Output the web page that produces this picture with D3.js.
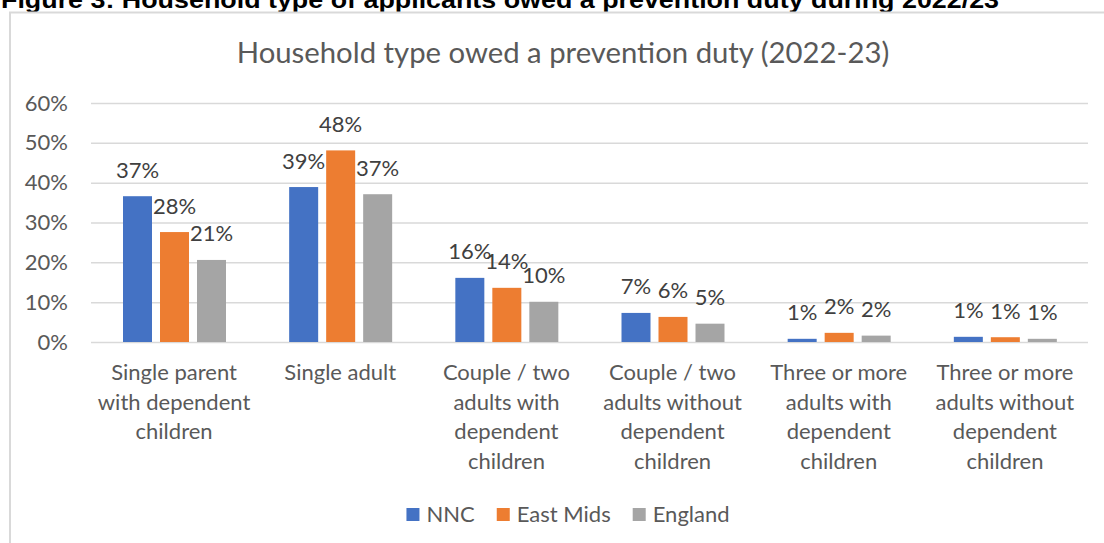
<!DOCTYPE html>
<html>
<head>
<meta charset="utf-8">
<script src="https://cdn.jsdelivr.net/npm/d3@7"></script>
<style>
  html, body { margin: 0; padding: 0; background: #fff; }
  svg { display: block; }
</style>
</head>
<body>
<svg id="chart" width="1104" height="543"></svg>
<script>
// ---------------- DATA ----------------
const heading = "Figure 3: Household type of applicants owed a prevention duty during 2022/23";
const chartTitle = "Household type owed a prevention duty (2022-23)";
const categories = [
  ["Single parent", "with dependent", "children"],
  ["Single adult"],
  ["Couple / two", "adults with", "dependent", "children"],
  ["Couple / two", "adults without", "dependent", "children"],
  ["Three or more", "adults with", "dependent", "children"],
  ["Three or more", "adults without", "dependent", "children"]
];
const seriesNames = ["NNC", "East Mids", "England"];
const nncValues      = [0.366, 0.389, 0.161, 0.073, 0.008, 0.013];
const eastMidsValues = [0.276, 0.481, 0.136, 0.063, 0.023, 0.012];
const englandValues  = [0.206, 0.371, 0.101, 0.046, 0.016, 0.008];
const yTicks = [0, 0.1, 0.2, 0.3, 0.4, 0.5, 0.6];
const seriesColors = ["#4472C4", "#ED7D31", "#A5A5A5"];

// ---------------- LAYOUT ----------------
const svg = d3.select("#chart");
const FONT = "Lato, 'Open Sans', sans-serif";
const plot = { left: 91, right: 1088, top: 103, bottom: 342 };

const catKeys = categories.map((c, i) => i);
const seriesValues = [nncValues, eastMidsValues, englandValues];

const x0 = d3.scaleBand().domain(catKeys).range([plot.left, plot.right]).padding(0);
const x1 = d3.scaleBand().domain(seriesNames).range([32, 135]).paddingInner(8 / 37).paddingOuter(0);
const y = d3.scaleLinear().domain([0, 0.6]).range([plot.bottom, plot.top]);
const fmt = d3.format(".0%");

// Heading (cut off at top, as in the source page)
svg.append("text")
  .attr("x", 1).attr("y", 8)
  .attr("font-family", "'Liberation Sans', Arial, sans-serif")
  .attr("font-weight", "bold")
  .attr("font-size", 24)
  .attr("textLength", 998)
  .attr("lengthAdjust", "spacingAndGlyphs")
  .attr("fill", "#000")
  .text(heading);

// Chart border
svg.append("rect")
  .attr("x", 10).attr("y", 12.5)
  .attr("width", 1120).attr("height", 560)
  .attr("fill", "none")
  .attr("stroke", "#d9d9d9")
  .attr("stroke-width", 2);

// Title
svg.append("text")
  .attr("x", 563).attr("y", 63)
  .attr("text-anchor", "middle")
  .attr("font-family", FONT)
  .attr("font-size", 29.3)
  .attr("fill", "#595959")
  .text(chartTitle);

// Y axis (gridlines + labels)
const yAxis = d3.axisLeft(y)
  .tickValues(yTicks)
  .tickFormat(d3.format(".0%"))
  .tickSize(-(plot.right - plot.left))
  .tickPadding(23);
const gy = svg.append("g")
  .attr("transform", `translate(${plot.left},0)`)
  .call(yAxis);
gy.select(".domain").remove();
gy.selectAll(".tick line").attr("stroke", "#d9d9d9").attr("stroke-width", 1.5);
gy.selectAll(".tick text")
  .attr("font-family", FONT)
  .attr("font-size", 22)
  .attr("fill", "#595959");

// Bars
const groups = svg.append("g").selectAll("g")
  .data(catKeys)
  .join("g")
  .attr("transform", d => `translate(${x0(d)},0)`);

groups.selectAll("rect")
  .data(i => seriesNames.map((s, k) => ({ s, k, v: seriesValues[k][i] })))
  .join("rect")
  .attr("x", d => x1(d.s))
  .attr("y", d => y(d.v))
  .attr("width", x1.bandwidth())
  .attr("height", d => y(0) - y(d.v))
  .attr("fill", d => seriesColors[d.k]);

groups.selectAll("text.lbl")
  .data(i => seriesNames.map((s, k) => ({ s, k, v: seriesValues[k][i] })))
  .join("text")
  .attr("class", "lbl")
  .attr("x", d => x1(d.s) + x1.bandwidth() / 2)
  .attr("y", d => y(d.v) - 18.5)
  .attr("text-anchor", "middle")
  .attr("font-family", FONT)
  .attr("font-size", 22)
  .attr("fill", "#404040")
  .text(d => fmt(d.v));

// Category labels
const catG = svg.append("g");
catKeys.forEach(i => {
  const t = catG.append("text")
    .attr("text-anchor", "middle")
    .attr("font-family", FONT)
    .attr("font-size", 22)
    .attr("fill", "#595959");
  categories[i].forEach((line, j) => {
    t.append("tspan")
      .attr("x", x0(i) + x0.bandwidth() / 2)
      .attr("y", 380 + j * 29.5)
      .text(line);
  });
});

// Legend
const legend = svg.append("g");
const items = seriesNames.map((name, k) => {
  const g = legend.append("g");
  g.append("rect").attr("width", 13).attr("height", 13).attr("y", 508).attr("fill", seriesColors[k]);
  const t = g.append("text").attr("x", 20).attr("y", 522)
    .attr("font-family", FONT).attr("font-size", 22).attr("fill", "#595959").text(name);
  return { g, w: 20 + t.node().getComputedTextLength() };
});
const gap = 22;
const totalW = d3.sum(items, d => d.w) + gap * (items.length - 1);
let lx = 568 - totalW / 2;
items.forEach(it => { it.g.attr("transform", `translate(${lx},0)`); lx += it.w + gap; });
</script>
</body>
</html>
